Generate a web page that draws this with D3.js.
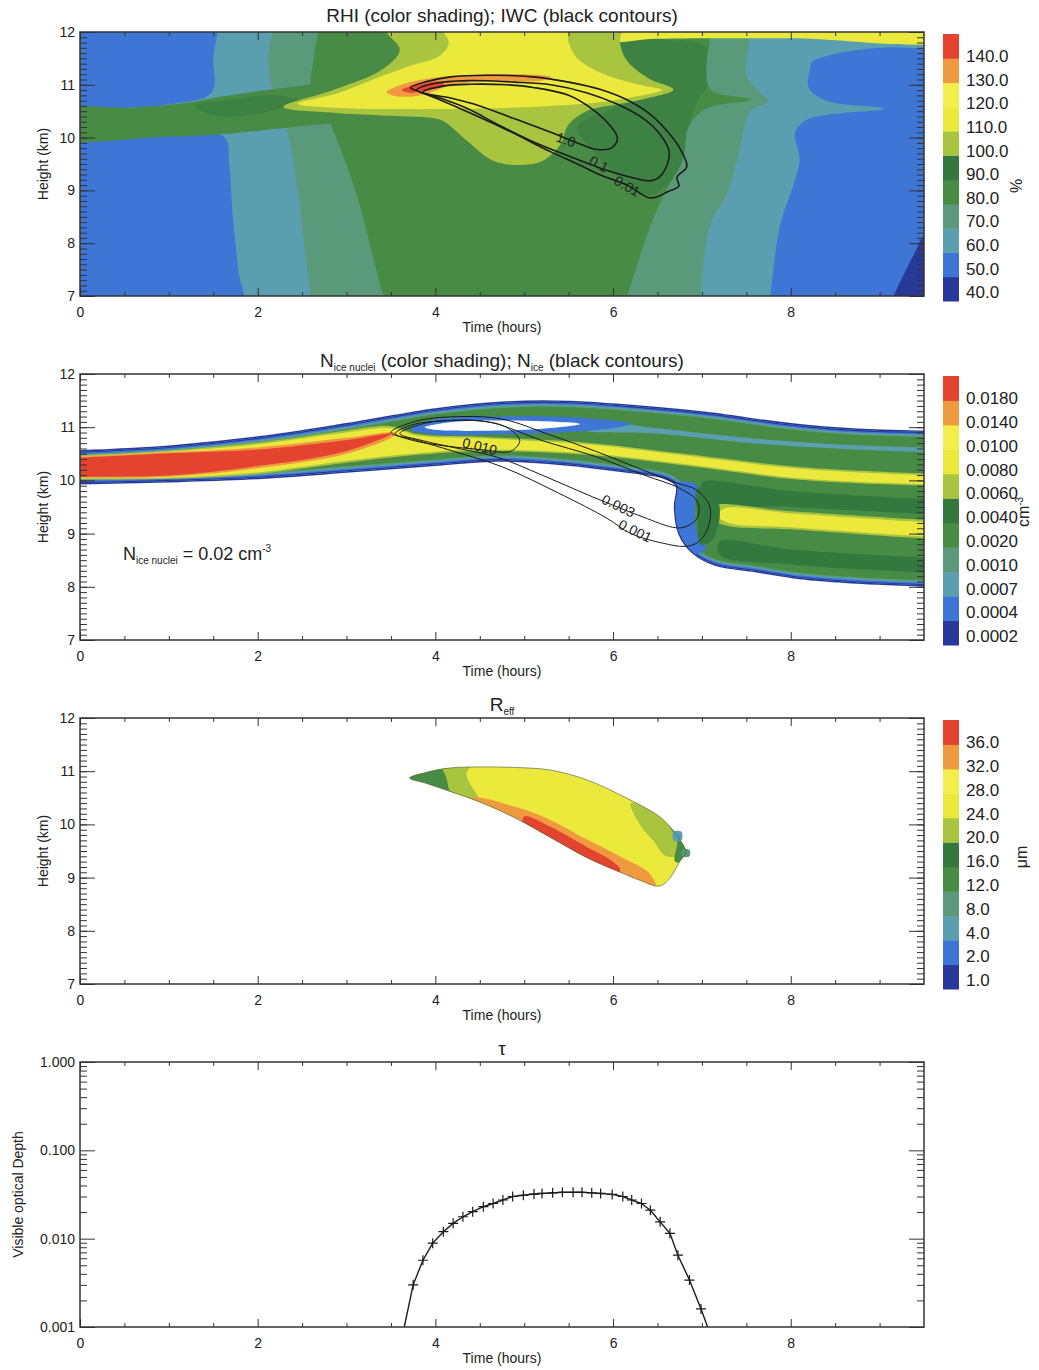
<!DOCTYPE html>
<html>
<head>
<meta charset="utf-8">
<script src="https://cdn.jsdelivr.net/npm/d3@7"></script>
<style>
body { margin: 0; background: #fff; }
svg { display: block; }
text { font-family: "Liberation Sans", Arial, Helvetica, sans-serif; fill: #222; }
</style>
</head>
<body>
<svg id="fig"></svg>
<script>
const totalWidth = 1039;
const totalHeight = 1370;

// colour bar palette, lowest level first
const palette = ["#29399a", "#3e76d6", "#5a9fb0", "#5a9a7a", "#478b45", "#33793f", "#a9c53f", "#ece93d", "#f4ee4a", "#ef9a3f", "#e3432f"];

// colour bar labels, lowest first
const rhiLabels = ["40.0", "50.0", "60.0", "70.0", "80.0", "90.0", "100.0", "110.0", "120.0", "130.0", "140.0"];
const nucLabels = ["0.0002", "0.0004", "0.0007", "0.0010", "0.0020", "0.0040", "0.0060", "0.0080", "0.0100", "0.0140", "0.0180"];
const reffLabels = ["1.0", "2.0", "4.0", "8.0", "12.0", "16.0", "20.0", "24.0", "28.0", "32.0", "36.0"];

// ---- RHI shading regions [time (h), height (km)] ----
const rhi70Left = [[-0.3,12.3],[2.63,12.3],[2.63,11.5],[2.6,11.02],[2.82,10.25],[3.1,9.0],[3.42,7.0],[3.5,6.7],[-0.3,6.7]];
const rhi60Left = [[-0.3,12.3],[2.12,12.3],[2.12,11.5],[2.15,11.0],[2.33,10.15],[2.45,9.0],[2.6,7.0],[2.65,6.7],[-0.3,6.7]];
const rhiBlueUpper = [[-0.3,12.3],[1.5,12.3],[1.5,11.5],[1.48,10.85],[1.0,10.63],[0.5,10.56],[-0.3,10.5]];
const rhiBlueLower = [[-0.3,10.02],[0.8,10.02],[1.62,10.02],[1.68,9.5],[1.72,8.5],[1.78,7.5],[1.82,6.7],[-0.3,6.7]];
const rhiBand = [[-0.3,10.5],[0.6,10.57],[1.2,10.66],[1.6,10.78],[2.2,10.92],[2.7,11.02],[3.3,11.05],[3.3,10.3],[2.9,10.28],[2.3,10.18],[1.7,10.08],[1.0,10.02],[-0.3,10.02]];
const rhiBandDark = [[1.3,10.6],[1.7,10.72],[2.2,10.8],[2.45,10.7],[2.0,10.45],[1.5,10.42]];
const rhiDarkRight = [[5.9,11.86],[6.6,11.86],[7.05,11.7],[7.1,11.1],[6.95,10.7],[6.85,10.2],[6.8,9.6],[6.6,9.1],[6.4,8.9],[6.1,9.2],[5.8,9.7],[5.6,10.2],[6.0,10.55],[6.4,10.85],[6.1,11.3]];
const rhi70Right = [[7.09,12.3],[9.8,12.3],[9.8,6.7],[6.1,6.7],[6.16,7.0],[6.42,8.33],[6.6,9.0],[6.79,9.6],[6.85,10.2],[7.05,10.55],[7.55,10.72],[7.1,10.9],[7.05,11.3],[7.09,11.9]];
const rhi60Right = [[7.54,12.3],[9.8,12.3],[9.8,6.7],[6.95,6.7],[6.98,7.0],[7.09,8.33],[7.3,9.0],[7.4,9.6],[7.55,10.5],[7.75,10.7],[7.65,10.85],[7.5,11.2],[7.54,11.9]];
const rhiBlueRight = [[8.25,11.45],[9.8,11.45],[9.8,6.7],[7.75,6.7],[7.77,7.0],[7.88,8.33],[8.05,9.2],[8.1,9.6],[8.05,10.1],[8.2,10.35],[9.05,10.55],[8.4,10.7],[8.2,10.95],[8.22,11.3]];
const rhiDarkBlue = [[9.1,6.7],[9.16,7.0],[9.3,7.5],[9.42,7.9],[9.5,8.15],[9.8,8.4],[9.8,6.7]];
const rhiTopStrip = [[5.3,12.3],[9.8,12.3],[9.8,11.88],[8.0,11.88],[6.5,11.87],[5.8,11.82]];
const rhi100 = [[3.41,12.3],[6.08,12.3],[6.08,11.77],[6.16,11.45],[6.4,11.12],[6.68,10.91],[6.35,10.73],[6.05,10.63],[5.7,10.5],[5.5,10.25],[5.4,9.85],[5.2,9.55],[4.95,9.48],[4.65,9.56],[4.35,9.95],[4.1,10.3],[3.97,10.37],[3.4,10.42],[2.85,10.47],[2.29,10.58],[2.85,10.9],[3.41,11.3],[3.6,11.66],[3.45,12.0]];
const rhiYellow = [[4.0,12.3],[5.45,12.3],[5.5,11.8],[5.6,11.5],[5.9,11.2],[6.3,11.0],[6.55,10.9],[6.2,10.76],[5.8,10.66],[5.3,10.6],[4.5,10.55],[3.6,10.54],[2.9,10.56],[2.45,10.64],[2.9,10.84],[3.3,11.1],[3.7,11.35],[4.05,11.55],[4.15,11.8]];
const rhiOrange = [[3.45,10.86],[3.65,11.02],[4.0,11.14],[4.6,11.2],[5.0,11.2],[5.3,11.15],[5.2,11.08],[4.7,11.07],[4.2,11.0],[3.95,10.86],[3.75,10.78],[3.55,10.79]];
const rhiRed = [[3.62,10.9],[3.8,11.0],[4.05,11.06],[4.1,11.0],[3.9,10.9],[3.72,10.85]];

// ---- IWC contours ----
const iwcOuter = [[3.72,10.95],[3.9,11.06],[4.17,11.15],[4.6,11.18],[5.1,11.15],[5.5,11.05],[5.86,10.91],[6.2,10.68],[6.42,10.44],[6.62,10.1],[6.75,9.8],[6.83,9.45],[6.72,9.25],[6.74,9.08],[6.62,8.98],[6.5,8.88],[6.4,8.86],[6.3,8.95],[6.16,9.1],[5.86,9.29],[5.6,9.5],[5.3,9.73],[4.8,10.15],[4.36,10.49],[4.0,10.75],[3.8,10.88]];
const iwcMid = [[3.79,10.9],[4.0,11.03],[4.36,11.08],[4.9,11.05],[5.3,11.0],[5.7,10.85],[6.05,10.63],[6.35,10.35],[6.53,10.06],[6.63,9.75],[6.61,9.49],[6.52,9.25],[6.42,9.18],[6.2,9.25],[5.86,9.42],[5.5,9.65],[5.1,9.92],[4.7,10.25],[4.36,10.55],[4.0,10.78]];
const iwcInner = [[3.86,10.86],[4.1,10.98],[4.4,11.01],[4.8,11.0],[5.1,10.95],[5.5,10.8],[5.78,10.52],[5.98,10.2],[6.05,9.98],[5.98,9.8],[5.8,9.78],[5.6,9.9],[5.3,10.1],[4.9,10.35],[4.5,10.6],[4.17,10.75]];

// ---- ice nuclei shading ----
const niBand = [[-0.3,10.52],[0,10.54],[1,10.63],[2,10.8],[3,11.05],[4,11.33],[4.8,11.46],[5.5,11.47],[6,11.42],[7,11.27],[8,11.05],[8.7,10.95],[9.5,10.91],[9.8,10.9],[9.8,8.0],[9.5,8.03],[8.8,8.08],[8.1,8.17],[7.6,8.3],[7.15,8.42],[6.9,8.65],[6.75,9.0],[6.7,9.5],[6.72,9.9],[6.57,10.06],[6.2,10.16],[5.45,10.31],[4.7,10.38],[4,10.3],[3,10.17],[2,10.05],[1,9.99],[0,9.95],[-0.3,9.94]];
const niDark1 = [[7.0,9.95],[8,9.8],[9.5,9.65],[9.8,9.64],[9.8,9.35],[9.5,9.37],[8,9.5],[7.1,9.6]];
const niDark2 = [[7.2,8.85],[8,8.7],[9.5,8.55],[9.8,8.54],[9.8,8.25],[9.5,8.27],[8,8.42],[7.2,8.6]];
const niTeal = [[5.6,11.12],[6.5,10.98],[7.5,10.8],[8.5,10.68],[9.5,10.62],[9.8,10.62],[9.8,10.52],[9.5,10.53],[8.5,10.6],[7.5,10.71],[6.5,10.88],[5.6,10.98]];
const niYellowGreen = [[-0.3,10.47],[0,10.47],[1,10.56],[2,10.71],[3,10.94],[3.5,11.02],[3.8,10.87],[4.5,10.82],[5.7,10.71],[6.9,10.48],[8.1,10.25],[9.5,10.13],[9.8,10.12],[9.8,9.89],[9.5,9.9],[8.1,10.01],[6.9,10.26],[5.7,10.48],[4.5,10.55],[3.8,10.48],[3,10.33],[2,10.12],[1,10.03],[0,10.02],[-0.3,10.02]];
const niYellow = [[-0.3,10.45],[0,10.45],[1,10.54],[2,10.68],[3,10.9],[3.5,10.98],[3.8,10.84],[4.5,10.79],[5.7,10.68],[6.9,10.45],[8.1,10.22],[9.5,10.1],[9.8,10.09],[9.8,9.92],[9.5,9.93],[8.1,10.04],[6.9,10.29],[5.7,10.51],[4.5,10.58],[3.8,10.51],[3,10.37],[2,10.15],[1,10.05],[0,10.04],[-0.3,10.04]];
const niYellowGreen2 = [[7.1,9.52],[8,9.42],[9.5,9.26],[9.8,9.24],[9.8,8.9],[9.5,8.91],[8,9.08],[7.25,9.16],[7.05,9.35]];
const niYellow2 = [[7.25,9.47],[8,9.38],[9.5,9.22],[9.8,9.2],[9.8,8.94],[9.5,8.95],[8,9.12],[7.3,9.2],[7.18,9.33]];
const niOrange = [[-0.3,10.45],[0,10.45],[1,10.53],[2,10.62],[3,10.8],[3.55,10.9],[3.55,10.86],[3,10.5],[2,10.23],[1,10.07],[0,10.05],[-0.3,10.05]];
const niRed = [[-0.3,10.43],[0,10.43],[1,10.51],[2,10.58],[3,10.76],[3.5,10.88],[3.5,10.87],[3,10.55],[2,10.27],[1,10.09],[0,10.07],[-0.3,10.07]];
const niHoleBlue = [[3.72,10.96],[3.95,11.13],[4.6,11.2],[5.6,11.18],[6.2,11.06],[5.9,10.96],[5.4,10.9],[4.5,10.86],[4.0,10.86]];
const niHole = [[3.88,11.0],[4.2,11.1],[5.0,11.12],[5.63,11.06],[5.2,10.97],[4.4,10.93],[4.0,10.95]];
const niHookBlue = [[6.7,9.95],[6.95,9.9],[6.92,9.5],[6.95,9.0],[7.05,8.72],[6.88,8.62],[6.74,9.0],[6.66,9.5]];
const niHookDark = [[6.95,9.85],[7.15,9.75],[7.2,9.3],[7.1,8.85],[6.98,8.8],[6.95,9.3]];

// ---- N_ice contours ----
const nice001 = [[3.5,10.9],[3.8,11.12],[4.3,11.2],[4.76,11.15],[5.3,10.85],[5.8,10.55],[6.3,10.22],[6.72,9.95],[6.94,9.82],[7.09,9.5],[7.06,9.07],[6.94,8.82],[6.8,8.76],[6.56,8.82],[6.2,9.0],[5.93,9.29],[5.4,9.75],[4.76,10.25],[4.2,10.55],[3.8,10.75]];
const nice003 = [[3.6,10.88],[3.9,11.08],[4.3,11.13],[4.65,11.08],[5.2,10.75],[5.8,10.45],[6.35,10.1],[6.75,9.85],[6.95,9.6],[6.95,9.3],[6.8,9.12],[6.67,9.12],[6.34,9.31],[5.77,9.69],[5.2,10.1],[4.69,10.44],[4.2,10.62],[3.85,10.75]];
const nice010 = [[3.55,10.88],[3.75,11.05],[4.1,11.12],[4.5,11.12],[4.8,11.0],[4.95,10.75],[4.85,10.55],[4.5,10.58],[4.1,10.65],[3.75,10.75]];

// ---- effective radius shading ----
const reffOutline = [[3.71,10.87],[3.9,10.98],[4.16,11.06],[4.5,11.08],[4.9,11.07],[5.3,11.02],[5.7,10.84],[6.11,10.53],[6.52,10.15],[6.67,9.9],[6.75,9.72],[6.82,9.48],[6.75,9.3],[6.62,8.95],[6.52,8.84],[6.3,8.95],[6.11,9.08],[5.7,9.38],[5.3,9.75],[4.9,10.12],[4.5,10.42],[4.2,10.6],[3.9,10.77]];
const reffGreenTip = [[3.6,10.9],[4.13,11.2],[4.12,10.9],[4.25,10.5],[3.6,10.7]];
const reffYellowGreenTip = [[4.05,11.2],[4.45,11.2],[4.35,10.95],[4.5,10.4],[4.2,10.5],[4.12,10.9]];
const reffOrange = [[4.4,10.5],[4.9,10.33],[5.3,10.08],[5.7,9.72],[6.1,9.38],[6.42,9.06],[6.5,8.6],[6.0,8.8],[5.3,9.4],[4.6,10.0],[4.3,10.3]];
const reffRed = [[5.0,10.15],[5.3,9.95],[5.7,9.58],[6.0,9.3],[6.08,9.15],[6.0,8.9],[5.5,9.3],[5.0,9.9]];
const reffYellowGreenEnd = [[6.2,10.4],[6.55,10.2],[6.75,9.85],[6.85,9.5],[6.6,9.4],[6.45,9.7],[6.3,10.0]];
const reffGreenEnd = [[6.6,10.1],[6.9,9.9],[6.95,9.4],[6.7,9.3],[6.72,9.7]];
const reffBlueBits = [[6.68,9.86],[6.77,9.86],[6.77,9.7],[6.68,9.7]];
const reffTealBits = [[6.78,9.52],[6.86,9.52],[6.86,9.4],[6.78,9.4]];

// ---- optical depth ----
const tauTime = [3.64,3.75,3.86,3.97,4.09,4.20,4.31,4.42,4.54,4.65,4.76,4.87,4.99,5.11,5.20,5.32,5.43,5.55,5.65,5.76,5.86,5.99,6.11,6.21,6.32,6.42,6.53,6.64,6.73,6.86,6.99,7.10];
const tauValue = [0.0009,0.0030,0.0057,0.0089,0.0120,0.0149,0.0177,0.0202,0.0230,0.0250,0.0274,0.0300,0.0310,0.0320,0.0325,0.0330,0.0335,0.0335,0.0335,0.0330,0.0325,0.0317,0.0300,0.0274,0.0250,0.0210,0.0155,0.0115,0.0065,0.0034,0.0016,0.0008];

const svg = d3.select('#fig')
    .attr('width', totalWidth)
    .attr('height', totalHeight);
const defs = svg.append('defs');

const x = d3.scaleLinear().domain([0, 9.5]).range([80, 924]);
const yRhi = d3.scaleLinear().domain([7, 12]).range([296, 32]);
const yNuc = d3.scaleLinear().domain([7, 12]).range([640, 374]);
const yReff = d3.scaleLinear().domain([7, 12]).range([984, 718]);
const yTau = d3.scaleLog().domain([0.001, 1]).range([1327, 1062]);

function shape(y) {
    return d3.line().x(d => x(d[0])).y(d => y(d[1])).curve(d3.curveCatmullRomClosed.alpha(0.5));
}

function plotClip(id, y) {
    defs.append('clipPath').attr('id', id).append('rect')
        .attr('x', x(0)).attr('y', y.range()[1])
        .attr('width', x(9.5) - x(0)).attr('height', y.range()[0] - y.range()[1]);
}

function fillLayers(g, y, layers) {
    const path = shape(y);
    layers.forEach(([pts, color]) => {
        g.append('path').attr('d', path(pts)).attr('fill', color);
    });
}

function contour(g, y, pts, width) {
    g.append('path').attr('d', shape(y)(pts))
        .attr('fill', 'none').attr('stroke', '#1c1c1c').attr('stroke-width', width);
}

function contourLabel(g, y, t, h, angle, label, size) {
    g.append('text')
        .attr('transform', `translate(${x(t)},${y(h)}) rotate(${angle})`)
        .attr('text-anchor', 'middle').attr('dy', '0.35em')
        .attr('font-size', size).text(label);
}

function frame(y, yMajor, yMinor, yFormat) {
    const top = y.range()[1], bottom = y.range()[0];
    const g = svg.append('g');
    const xMajor = [0, 2, 4, 6, 8];
    const xMinor = d3.range(0, 9.5, 0.5).filter(v => v % 2 !== 0);
    const add = (axis, tx, ty) => g.append('g')
        .attr('transform', `translate(${tx},${ty})`)
        .call(axis.tickSizeOuter(0));
    add(d3.axisBottom(x).tickValues(xMinor).tickSize(-4).tickFormat(''), 0, bottom);
    add(d3.axisBottom(x).tickValues(xMajor).tickSize(-8).tickPadding(11).tickFormat(d3.format('d')), 0, bottom);
    add(d3.axisTop(x).tickValues(xMinor).tickSize(-4).tickFormat(''), 0, top);
    add(d3.axisTop(x).tickValues(xMajor).tickSize(-8).tickFormat(''), 0, top);
    add(d3.axisLeft(y).tickValues(yMinor).tickSize(-7).tickFormat(''), x(0), 0);
    add(d3.axisLeft(y).tickValues(yMajor).tickSize(-15).tickPadding(5).tickFormat(yFormat), x(0), 0);
    add(d3.axisRight(y).tickValues(yMinor).tickSize(-7).tickFormat(''), x(9.5), 0);
    add(d3.axisRight(y).tickValues(yMajor).tickSize(-15).tickFormat(''), x(9.5), 0);
    g.selectAll('.domain').remove();
    g.selectAll('.tick line').attr('stroke', '#333').attr('stroke-width', 1);
    g.selectAll('.tick text').attr('font-size', 14).attr('fill', '#222');
    g.append('rect')
        .attr('x', x(0)).attr('y', top)
        .attr('width', x(9.5) - x(0)).attr('height', bottom - top)
        .attr('fill', 'none').attr('stroke', '#333').attr('stroke-width', 1.5);
    svg.append('text')
        .attr('x', (x(0) + x(9.5)) / 2).attr('y', bottom + 36)
        .attr('text-anchor', 'middle').attr('font-size', 14)
        .text('Time (hours)');
}

function yTitle(y, label, xpos) {
    const mid = (y.range()[0] + y.range()[1]) / 2;
    svg.append('text')
        .attr('transform', `translate(${xpos},${mid}) rotate(-90)`)
        .attr('text-anchor', 'middle').attr('dy', '0.35em')
        .attr('font-size', 14).text(label);
}

function colorBar(y, labels) {
    const top = y.range()[1] + 2, bottom = y.range()[0] + 5;
    const band = d3.scaleBand().domain(d3.range(palette.length)).range([bottom, top]);
    const pos = d3.scaleLinear().domain([0, labels.length - 1]).range([bottom - 9, top + 22]);
    const g = svg.append('g');
    g.selectAll('rect').data(palette).enter().append('rect')
        .attr('x', 943).attr('width', 16)
        .attr('y', (c, i) => band(i)).attr('height', band.bandwidth() + 0.5)
        .attr('fill', c => c);
    g.selectAll('text').data(labels).enter().append('text')
        .attr('x', 966).attr('y', (l, i) => pos(i)).attr('dy', '0.36em')
        .attr('font-size', 17).text(l => l);
}

function unitLabel(cx, cy, parts) {
    const t = svg.append('text')
        .attr('transform', `translate(${cx},${cy}) rotate(-90)`)
        .attr('text-anchor', 'middle').attr('dy', '0.35em').attr('font-size', 16);
    parts.forEach(([s, size, dy]) => t.append('tspan').attr('font-size', size).attr('dy', dy).text(s));
}

function title(cy, parts) {
    const t = svg.append('text')
        .attr('x', (x(0) + x(9.5)) / 2).attr('y', cy)
        .attr('text-anchor', 'middle').attr('font-size', 19);
    parts.forEach(([s, size, dy]) => t.append('tspan').attr('font-size', size).attr('dy', dy).text(s));
}

const kmMajor = [7, 8, 9, 10, 11, 12];
const kmMinor = d3.range(70, 121, 1).map(v => v / 10);

// ================= panel 1 : RHI =================
plotClip('clip-rhi', yRhi);
const g1 = svg.append('g').attr('clip-path', 'url(#clip-rhi)');
g1.append('rect').attr('x', x(0)).attr('y', yRhi(12))
    .attr('width', x(9.5) - x(0)).attr('height', yRhi(7) - yRhi(12))
    .attr('fill', palette[4]);
fillLayers(g1, yRhi, [
    [rhi70Left, palette[3]], [rhi60Left, palette[2]],
    [rhiBlueUpper, palette[1]], [rhiBlueLower, palette[1]],
    [rhiBand, palette[4]], [rhiBandDark, '#3d8242'],
    [rhiDarkRight, '#3d8242'],
    [rhi70Right, palette[3]], [rhi60Right, palette[2]],
    [rhiBlueRight, palette[1]], [rhiDarkBlue, palette[0]],
    [rhiTopStrip, palette[7]],
    [rhi100, palette[6]], [rhiYellow, palette[7]],
    [rhiOrange, palette[9]], [rhiRed, palette[10]]
]);
contour(g1, yRhi, iwcOuter, 1.6);
contour(g1, yRhi, iwcMid, 1.6);
contour(g1, yRhi, iwcInner, 1.6);
contourLabel(g1, yRhi, 5.47, 9.96, 18, '1.0', 14);
contourLabel(g1, yRhi, 5.84, 9.5, 28, '0.1', 14);
contourLabel(g1, yRhi, 6.16, 9.08, 30, '0.01', 14);
frame(yRhi, kmMajor, kmMinor, d3.format('d'));
yTitle(yRhi, 'Height (km)', 43);
title(22, [['RHI (color shading);  IWC (black contours)', 19, 0]]);
colorBar(yRhi, rhiLabels);
unitLabel(1022, 186, [['%', 16, 0]]);

// ================= panel 2 : ice nuclei =================
plotClip('clip-nuc', yNuc);
const g2 = svg.append('g').attr('clip-path', 'url(#clip-nuc)');
const bandPath = shape(yNuc)(niBand);
defs.append('clipPath').attr('id', 'clip-band').append('path').attr('d', bandPath);
g2.append('path').attr('d', bandPath).attr('fill', 'none')
    .attr('stroke', palette[0]).attr('stroke-width', 3);
const g2b = g2.append('g').attr('clip-path', 'url(#clip-band)');
g2b.append('path').attr('d', bandPath).attr('fill', palette[4]);
[[palette[3], 10], [palette[2], 7], [palette[1], 5], [palette[0], 2.2]].forEach(([c, w]) => {
    g2b.append('path').attr('d', bandPath).attr('fill', 'none')
        .attr('stroke', c).attr('stroke-width', w);
});
fillLayers(g2b, yNuc, [
    [niDark1, palette[5]], [niDark2, palette[5]], [niTeal, palette[2]],
    [niYellowGreen, palette[6]], [niYellow, palette[7]],
    [niYellowGreen2, palette[6]], [niYellow2, palette[7]],
    [niOrange, palette[9]], [niRed, palette[10]],
    [niHoleBlue, palette[1]], [niHole, '#ffffff'],
    [niHookBlue, palette[1]], [niHookDark, palette[5]]
]);
contour(g2, yNuc, nice001, 1);
contour(g2, yNuc, nice003, 1);
contour(g2, yNuc, nice010, 1);
contourLabel(g2, yNuc, 4.5, 10.64, 14, '0.010', 14);
contourLabel(g2, yNuc, 6.06, 9.52, 26, '0.003', 14);
contourLabel(g2, yNuc, 6.25, 9.05, 26, '0.001', 14);
frame(yNuc, kmMajor, kmMinor, d3.format('d'));
yTitle(yNuc, 'Height (km)', 43);
title(367, [['N', 19, 0], ['ice nuclei', 10, 4], [' (color shading);  N', 19, -4], ['ice', 10, 4], [' (black contours)', 19, -4]]);
colorBar(yNuc, nucLabels);
unitLabel(1029, 512, [['cm', 16, 0], ['-3', 10, -6]]);
const note = svg.append('text').attr('x', 123).attr('y', 560).attr('font-size', 18);
note.append('tspan').text('N');
note.append('tspan').attr('font-size', 10).attr('dy', 4).text('ice nuclei');
note.append('tspan').attr('dy', -4).text(' = 0.02 cm');
note.append('tspan').attr('font-size', 10).attr('dy', -8).text('-3');

// ================= panel 3 : effective radius =================
plotClip('clip-reff', yReff);
const g3 = svg.append('g').attr('clip-path', 'url(#clip-reff)');
const bananaPath = shape(yReff)(reffOutline);
defs.append('clipPath').attr('id', 'clip-banana').append('path').attr('d', bananaPath);
g3.append('path').attr('d', bananaPath).attr('fill', palette[7]);
const g3b = g3.append('g').attr('clip-path', 'url(#clip-banana)');
fillLayers(g3b, yReff, [
    [reffGreenTip, palette[4]], [reffYellowGreenTip, palette[6]],
    [reffOrange, palette[9]], [reffRed, palette[10]],
    [reffYellowGreenEnd, palette[6]], [reffGreenEnd, palette[4]]
]);
fillLayers(g3, yReff, [[reffBlueBits, palette[2]], [reffTealBits, palette[3]]]);
g3.append('path').attr('d', bananaPath).attr('fill', 'none')
    .attr('stroke', '#4d5f36').attr('stroke-width', 0.9).attr('stroke-opacity', 0.7);
frame(yReff, kmMajor, kmMinor, d3.format('d'));
yTitle(yReff, 'Height (km)', 43);
title(711, [['R', 19, 0], ['eff', 10, 4]]);
colorBar(yReff, reffLabels);
unitLabel(1027, 857, [['\u03bcm', 16, 0]]);

// ================= panel 4 : optical depth =================
plotClip('clip-tau', yTau);
const g4 = svg.append('g').attr('clip-path', 'url(#clip-tau)');
const tau = tauTime.map((t, i) => [t, tauValue[i]]);
g4.append('path')
    .attr('d', d3.line().x(d => x(d[0])).y(d => yTau(d[1]))(tau))
    .attr('fill', 'none').attr('stroke', '#1a1a1a').attr('stroke-width', 1.4);
g4.selectAll('.mark').data(tau.filter(d => d[1] >= 0.001)).enter().append('path')
    .attr('transform', d => `translate(${x(d[0])},${yTau(d[1])})`)
    .attr('d', 'M-5,0H5M0,-5V5')
    .attr('stroke', '#1a1a1a').attr('stroke-width', 1.2);
const tauMajor = [0.001, 0.01, 0.1, 1];
const tauMinor = yTau.ticks().filter(v => !tauMajor.some(m => Math.abs(v - m) < 1e-9));
frame(yTau, tauMajor, tauMinor, d3.format('.3f'));
yTitle(yTau, 'Visible optical Depth', 18);
title(1055, [['\u03c4', 19, 0]]);
</script>
</body>
</html>
